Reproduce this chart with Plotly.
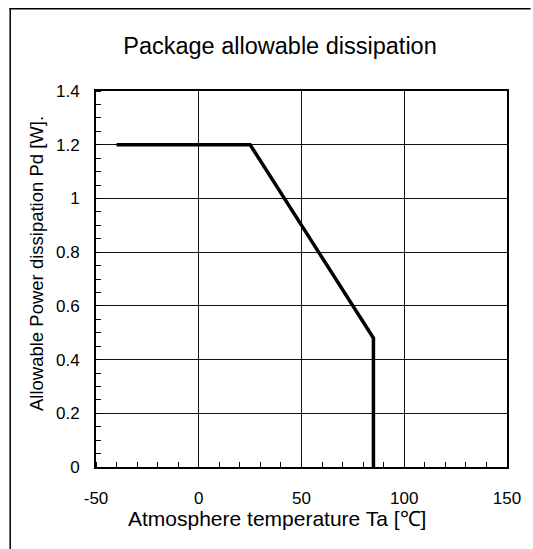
import plotly.graph_objects as go

# Data
temperature_c = [-40, 25, 55, 80, 85, 85]
power_w = [1.2, 1.2, 0.84, 0.54, 0.48, 0.0]

x_tick_vals = [-50, 0, 50, 100, 150]
x_tick_text = ["-50", "0", "50", "100", "150"]
y_tick_vals = [0, 0.2, 0.4, 0.6, 0.8, 1.0, 1.2, 1.4]
y_tick_text = ["0", "0.2", "0.4", "0.6", "0.8", "1", "1.2", "1.4"]

title_text = "Package allowable dissipation"
x_title = "Atmosphere temperature Ta [℃]"
y_title = "Allowable Power dissipation Pd [W]."

FONT = "Liberation Sans, Arial, sans-serif"

W, H = 533, 549
L, T = 96, 91
R = W - 514
B = H - 467
pw, ph = W - L - R, H - T - B

def px_to_paper_x(px):  # page pixel -> paper fraction
    return (px - L) / pw

def py_to_paper_y(py):
    return (H - B - py) / ph

fig = go.Figure()
fig.add_trace(go.Scatter(
    x=temperature_c, y=power_w, mode="lines",
    line=dict(color="black", width=3.5),
    showlegend=False, hoverinfo="skip",
))

# outer frame: left and top edges only (the rest lies outside the picture)
frame_line = dict(color="black", width=1.5)
fig.add_shape(type="line", xref="paper", yref="paper",
              x0=px_to_paper_x(8.75), x1=px_to_paper_x(8.75),
              y0=py_to_paper_y(H + 5), y1=py_to_paper_y(8), line=frame_line)
fig.add_shape(type="line", xref="paper", yref="paper",
              x0=px_to_paper_x(8), x1=px_to_paper_x(W + 5),
              y0=py_to_paper_y(8.75), y1=py_to_paper_y(8.75), line=frame_line)

fig.add_annotation(
    text=x_title, xref="paper", yref="paper",
    x=px_to_paper_x(280), y=py_to_paper_y(518),
    xanchor="center", yanchor="middle", showarrow=False,
    font=dict(size=21, family=FONT, color="black"),
)
fig.add_annotation(
    text=y_title, xref="paper", yref="paper",
    x=px_to_paper_x(35), y=py_to_paper_y(264),
    xanchor="center", yanchor="middle", showarrow=False, textangle=-90,
    font=dict(size=18.5, family=FONT, color="black"),
)

fig.update_layout(
    width=W, height=H, autosize=False,
    margin=dict(l=L, r=R, t=T, b=B, pad=0),
    paper_bgcolor="white", plot_bgcolor="white",
    font=dict(family=FONT, color="black", size=17),
    title=dict(text=title_text, x=280 / W, xanchor="center",
               y=1 - 46 / H, yanchor="middle", yref="container",
               font=dict(size=23.5, family=FONT, color="black")),
)

fig.update_xaxes(
    range=[-50, 150], tickvals=x_tick_vals, ticktext=x_tick_text,
    showgrid=True, gridcolor="#111", gridwidth=1,
    showline=True, linecolor="black", linewidth=2, mirror=True,
    ticks="", ticklabelstandoff=15, zeroline=False,
    tickfont=dict(size=17),
    minor=dict(dtick=10, tick0=0, ticks="inside", ticklen=5, tickcolor="black", tickwidth=1, showgrid=False),
)
fig.update_yaxes(
    range=[0, 1.4], tickvals=y_tick_vals, ticktext=y_tick_text,
    showgrid=True, gridcolor="#111", gridwidth=1,
    showline=True, linecolor="black", linewidth=2, mirror=True,
    ticks="", ticklabelstandoff=11, zeroline=False,
    tickfont=dict(size=17),
    minor=dict(dtick=0.05, tick0=0, ticks="inside", ticklen=5, tickcolor="black", tickwidth=1, showgrid=False),
)

fig.write_html(
    "out.html",
    config={"displayModeBar": False, "staticPlot": True},
    post_script="document.body.style.margin='0';document.body.style.overflow='hidden';",
)
